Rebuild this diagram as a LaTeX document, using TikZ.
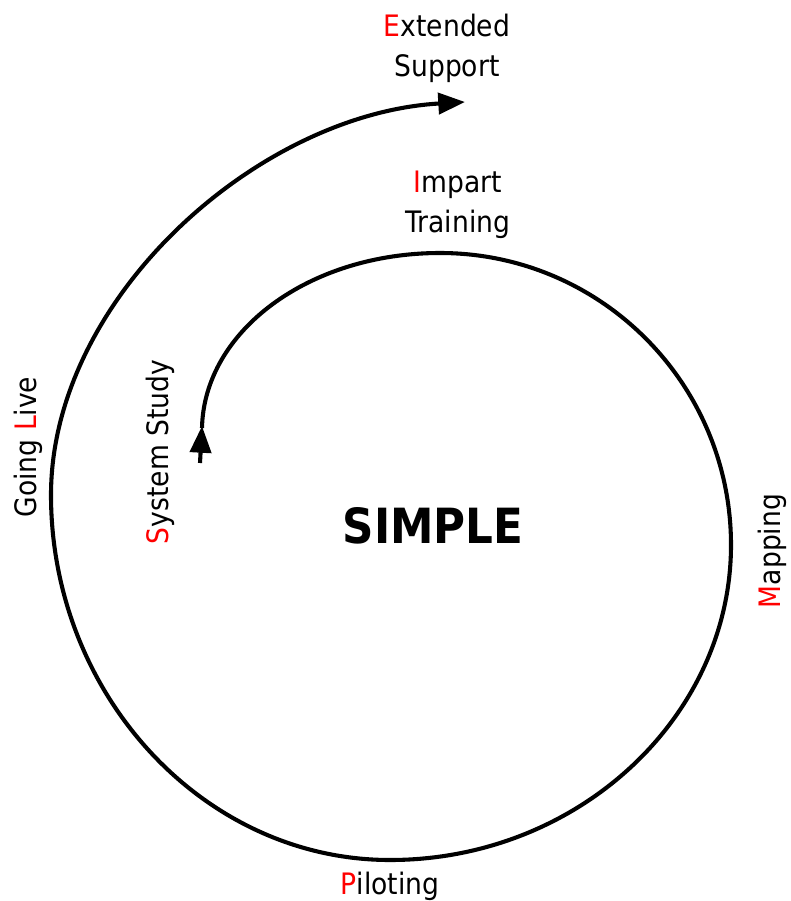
\documentclass[tikz,border=0pt]{standalone}
\usepackage{fontspec}
\setmainfont{DejaVu Sans Condensed}
\usetikzlibrary{arrows.meta}

\begin{document}
\begin{tikzpicture}[x=0.025cm, y=-0.025cm,
    stage/.style={font=\fontsize{21}{28.5}\selectfont, align=center, inner sep=0},
    spiral/.style={line width=2.9pt},
    tip/.style={-{Triangle[length=19pt,width=15pt]}}]
  \useasboundingbox (0, 0) rectangle (790, 901);

  % spiral, inner end first
    \draw[spiral, tip] (200, 463) -- (202, 426);
    \draw[spiral, tip] (202, 428)
      .. controls (204, 331) and (309, 253) .. (440, 253)
      .. controls (601, 253) and (731, 384) .. (731, 545)
      .. controls (731, 717) and (578, 860) .. (390, 860)
      .. controls (203, 860) and (51, 694) .. (51, 495)
      .. controls (51, 298) and (258, 114) .. (465, 102);

  % labels
    \node[stage] (extended) at (447, 48) {\textcolor{red}{E}xtended\\Support};
    \node[stage] (impart) at (458, 205) {\textcolor{red}{I}mpart\\Training};
    \node[stage, rotate=90] (sysstudy) at (160, 452) {\textcolor{red}{S}ystem Study};
    \node[stage, rotate=90] (golive) at (28, 447) {Going \textcolor{red}{L}ive};
    \node[stage, rotate=90] (mapping) at (772, 551) {\textcolor{red}{M}apping};
    \node[stage] (piloting) at (390, 886) {\textcolor{red}{P}iloting};

    \node[font=\fontsize{34.5}{40}\selectfont\bfseries, inner sep=0] (simple) at (433, 526) {SIMPLE};
\end{tikzpicture}
\end{document}
